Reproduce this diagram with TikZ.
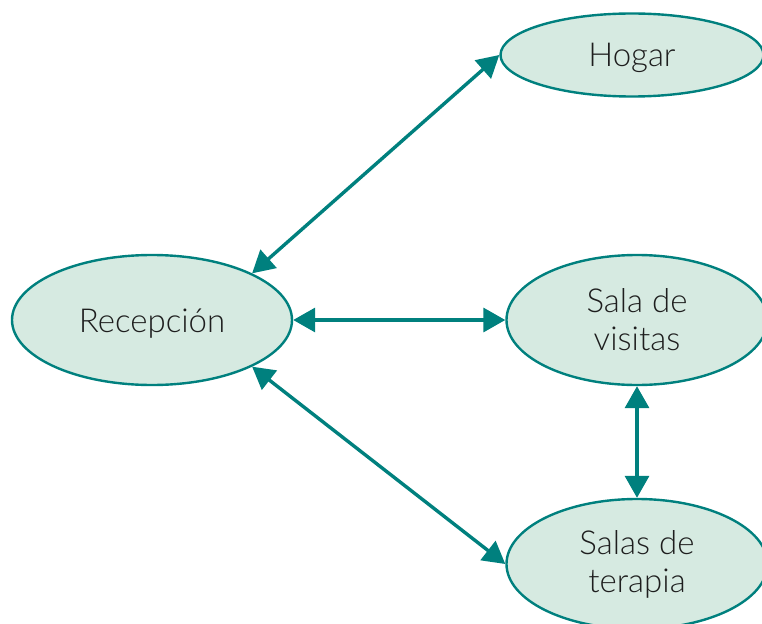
\documentclass[tikz,border=0pt]{standalone}
\usepackage{fontspec}
\setmainfont{Lato}[UprightFont=* Light]
\usetikzlibrary{shapes.geometric,arrows.meta}

\definecolor{tealline}{RGB}{0,128,126}
\definecolor{tealfill}{RGB}{214,234,225}
\definecolor{textgray}{RGB}{30,30,30}

\tikzset{
    room/.style={ellipse, draw=tealline, line width=2.4pt, fill=tealfill,
        inner sep=0pt, text=textgray, align=center,
        font=\fontsize{33}{38}\selectfont},
    oneline/.style={text height=30pt},
    link/.style={tealline, line width=3.4pt,
        {Triangle[length=22pt,width=24pt]}-{Triangle[length=22pt,width=24pt]}}
}

\begin{document}
\begin{tikzpicture}[x=1pt, y=-1pt]
    \useasboundingbox (0,0) rectangle (762,623);

    \node[room, oneline, minimum width=280pt, minimum height=130pt] (recepcion) at (152,320) {Recepción};
    \node[room, oneline, minimum width=263pt, minimum height=83pt]  (hogar)     at (632,55)  {Hogar};
    \node[room, minimum width=261pt, minimum height=130pt] (visitas)   at (637,320) {Sala de\\visitas};
    \node[room, minimum width=261pt, minimum height=130pt] (terapia)   at (637,564) {Salas de\\terapia};

    \draw[link] (recepcion.25)  -- (hogar.west);
    \draw[link] (recepcion.east) -- (visitas.west);
    \draw[link] (recepcion.-25) -- (terapia.west);
    \draw[link] (visitas.south) -- (terapia.north);
\end{tikzpicture}
\end{document}
